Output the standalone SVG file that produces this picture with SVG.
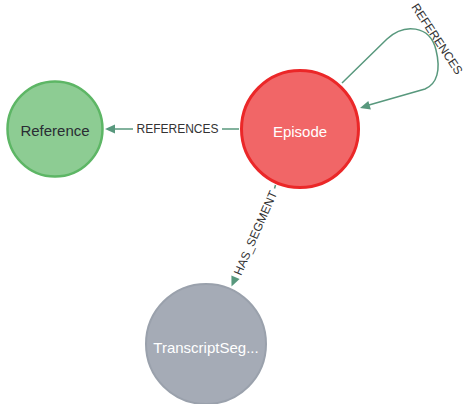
<svg xmlns="http://www.w3.org/2000/svg" width="469" height="404" viewBox="0 0 469 404">
<style>
.edge{fill:none;stroke:#58987d;stroke-width:1.5}
.head{fill:#58987d;stroke:none}
.elabel{font-family:"Liberation Sans",Arial,sans-serif;font-size:12px;fill:#333333;text-anchor:middle;dominant-baseline:central}
.nlabel{font-family:"Liberation Sans",Arial,sans-serif;font-size:15px;text-anchor:middle;dominant-baseline:central}
</style>
<rect width="469" height="404" fill="#ffffff"/>
<g id="connectors">
  <g id="e-episode-reference">
    <line class="edge" x1="239" y1="129" x2="222" y2="129"/>
    <line class="edge" x1="133" y1="129" x2="114" y2="129"/>
    <polygon class="head" points="105,129 115,124.5 115,133.5"/>
    <text class="elabel" x="177.5" y="129">REFERENCES</text>
  </g>
  <g id="e-episode-self">
    <path class="edge" d="M342,83 L387,39 C404,23 430,25 436,50 C441,70 437,84 425,89 L369,105"/>
    <polygon class="head" points="360,108 370.9,109.5 368.3,100.9"/>
    <text class="elabel" x="437" y="39" transform="rotate(56.5 437 39)">REFERENCES</text>
  </g>
  <g id="e-episode-transcript">
    <line class="edge" x1="275.5" y1="185" x2="274.5" y2="188.5"/>
    <polygon class="head" points="231.5,286.5 239.6,279.1 231.4,275.5"/>
    <text class="elabel" x="255.5" y="233" transform="rotate(-66.4 255.5 233)">HAS_SEGMENT</text>
  </g>
</g>
<g id="node-reference">
  <circle cx="55" cy="129" r="47.5" fill="#8DCC93" stroke="#5DB665" stroke-width="2.5"/>
  <text class="nlabel" x="55" y="130" fill="#2A2C34">Reference</text>
</g>
<g id="node-episode">
  <circle cx="300" cy="129" r="58.5" fill="#F16667" stroke="#EB2728" stroke-width="3"/>
  <text class="nlabel" x="300" y="131" fill="#FFFFFF">Episode</text>
</g>
<g id="node-transcript">
  <circle cx="206" cy="344" r="60" fill="#A5ABB6" stroke="#9AA1AC" stroke-width="2"/>
  <text class="nlabel" x="206" y="347" fill="#FFFFFF">TranscriptSeg...</text>
</g>
</svg>
